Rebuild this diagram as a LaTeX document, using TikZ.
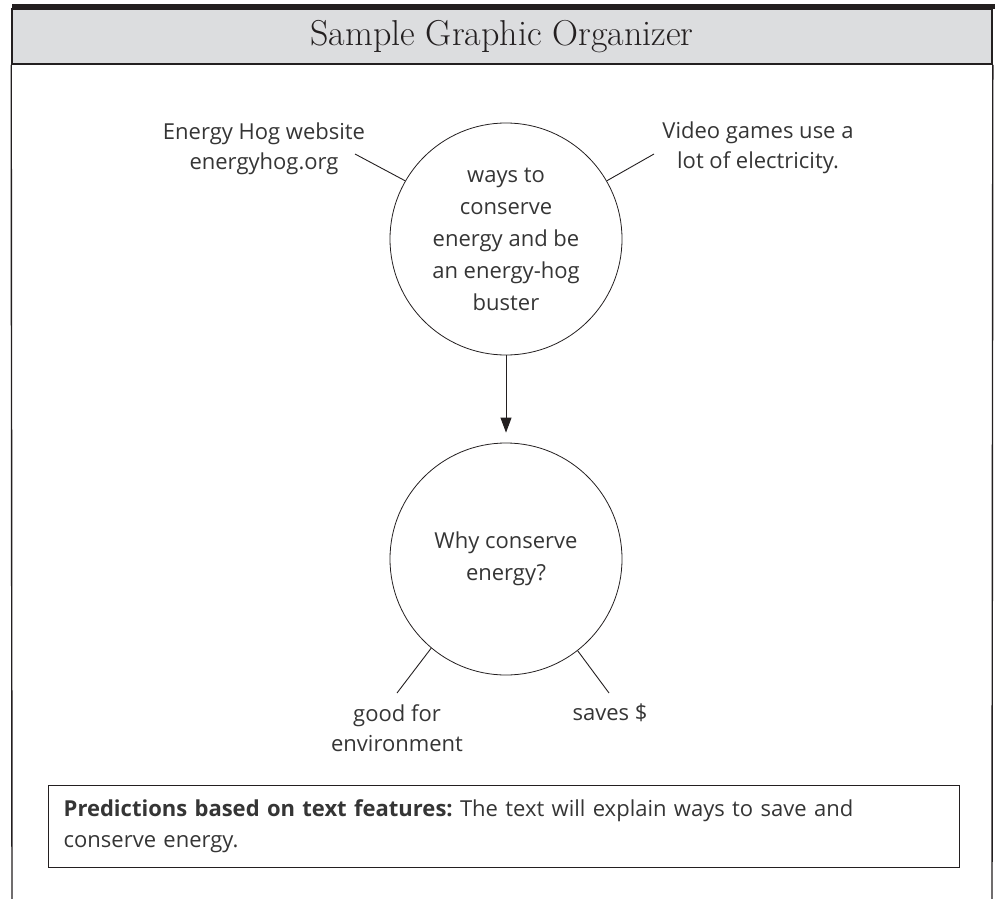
\documentclass[tikz,border=0pt]{standalone}
\usepackage{fontspec}
\newfontfamily\handfont{Open Sans}
\usetikzlibrary{arrows.meta}
\definecolor{ink}{HTML}{231F20}
\definecolor{band}{HTML}{DCDDDF}
\definecolor{pen}{HTML}{353535}
\tikzset{
  bubble/.style={draw=ink, circle, line width=0.8pt, minimum size=232pt, inner sep=0pt,
    align=center, text=pen, font=\handfont\fontsize{22}{32}\selectfont},
  note/.style={align=center, text=pen, font=\handfont\fontsize{22}{30.5}\selectfont},
  spoke/.style={draw=ink, line width=0.9pt}
}

\begin{document}
\begin{tikzpicture}[x=1pt, y=-1pt]
\useasboundingbox (0,0) rectangle (998,899);
% frame
\fill[ink] (12,4) rectangle (995,9.5);
\node[draw=ink, fill=band, line width=1.6pt, minimum width=980pt, minimum height=55pt,
  inner sep=0pt, text=ink, font=\fontsize{36}{38}\selectfont] (head) at (502,36.5) {Sample Graphic Organizer};
\draw[ink, line width=1.4pt] (head.south west) -- (12,899);
\draw[ink, line width=1.4pt] (head.south east) -- (992,899);
% web
\node[bubble] (goal) at (506,239) {ways to\\conserve\\energy and be\\an energy-hog\\buster};
\node[bubble] (why) at (506,559) {Why conserve\\energy?};
\draw[ink, line width=0.9pt, -{Triangle[length=15pt,width=11pt]}, shorten >=10pt] (goal) -- (why);
\node[note] (site) at (264,149) {Energy Hog website\\energyhog.org};
\node[note] (games) at (758,148) {Video games use a\\lot of electricity.};
\node[note] (green) at (397,728) {good for\\environment};
\node[note] (money) at (610,713) {saves \$};
\coordinate (siteend) at (355,154);
\coordinate (gamesend) at (654,154);
\coordinate (greenend) at (397,693);
\coordinate (moneyend) at (609,693);
\draw[spoke] (goal.150) -- (siteend);
\draw[spoke] (goal.30) -- (gamesend);
\draw[spoke] (why.230) -- (greenend);
\draw[spoke] (why.308) -- (moneyend);
% predictions
\node[draw=ink, line width=1.4pt, anchor=north west, minimum width=911pt, minimum height=82pt,
  inner xsep=15pt, text width=881pt, align=left, text=pen,
  font=\handfont\fontsize{22}{31}\selectfont\frenchspacing] (pred) at (48,785)
  {\textbf{Predictions based on text features:} The text will explain ways to save and\\conserve energy.};
\end{tikzpicture}
\end{document}
